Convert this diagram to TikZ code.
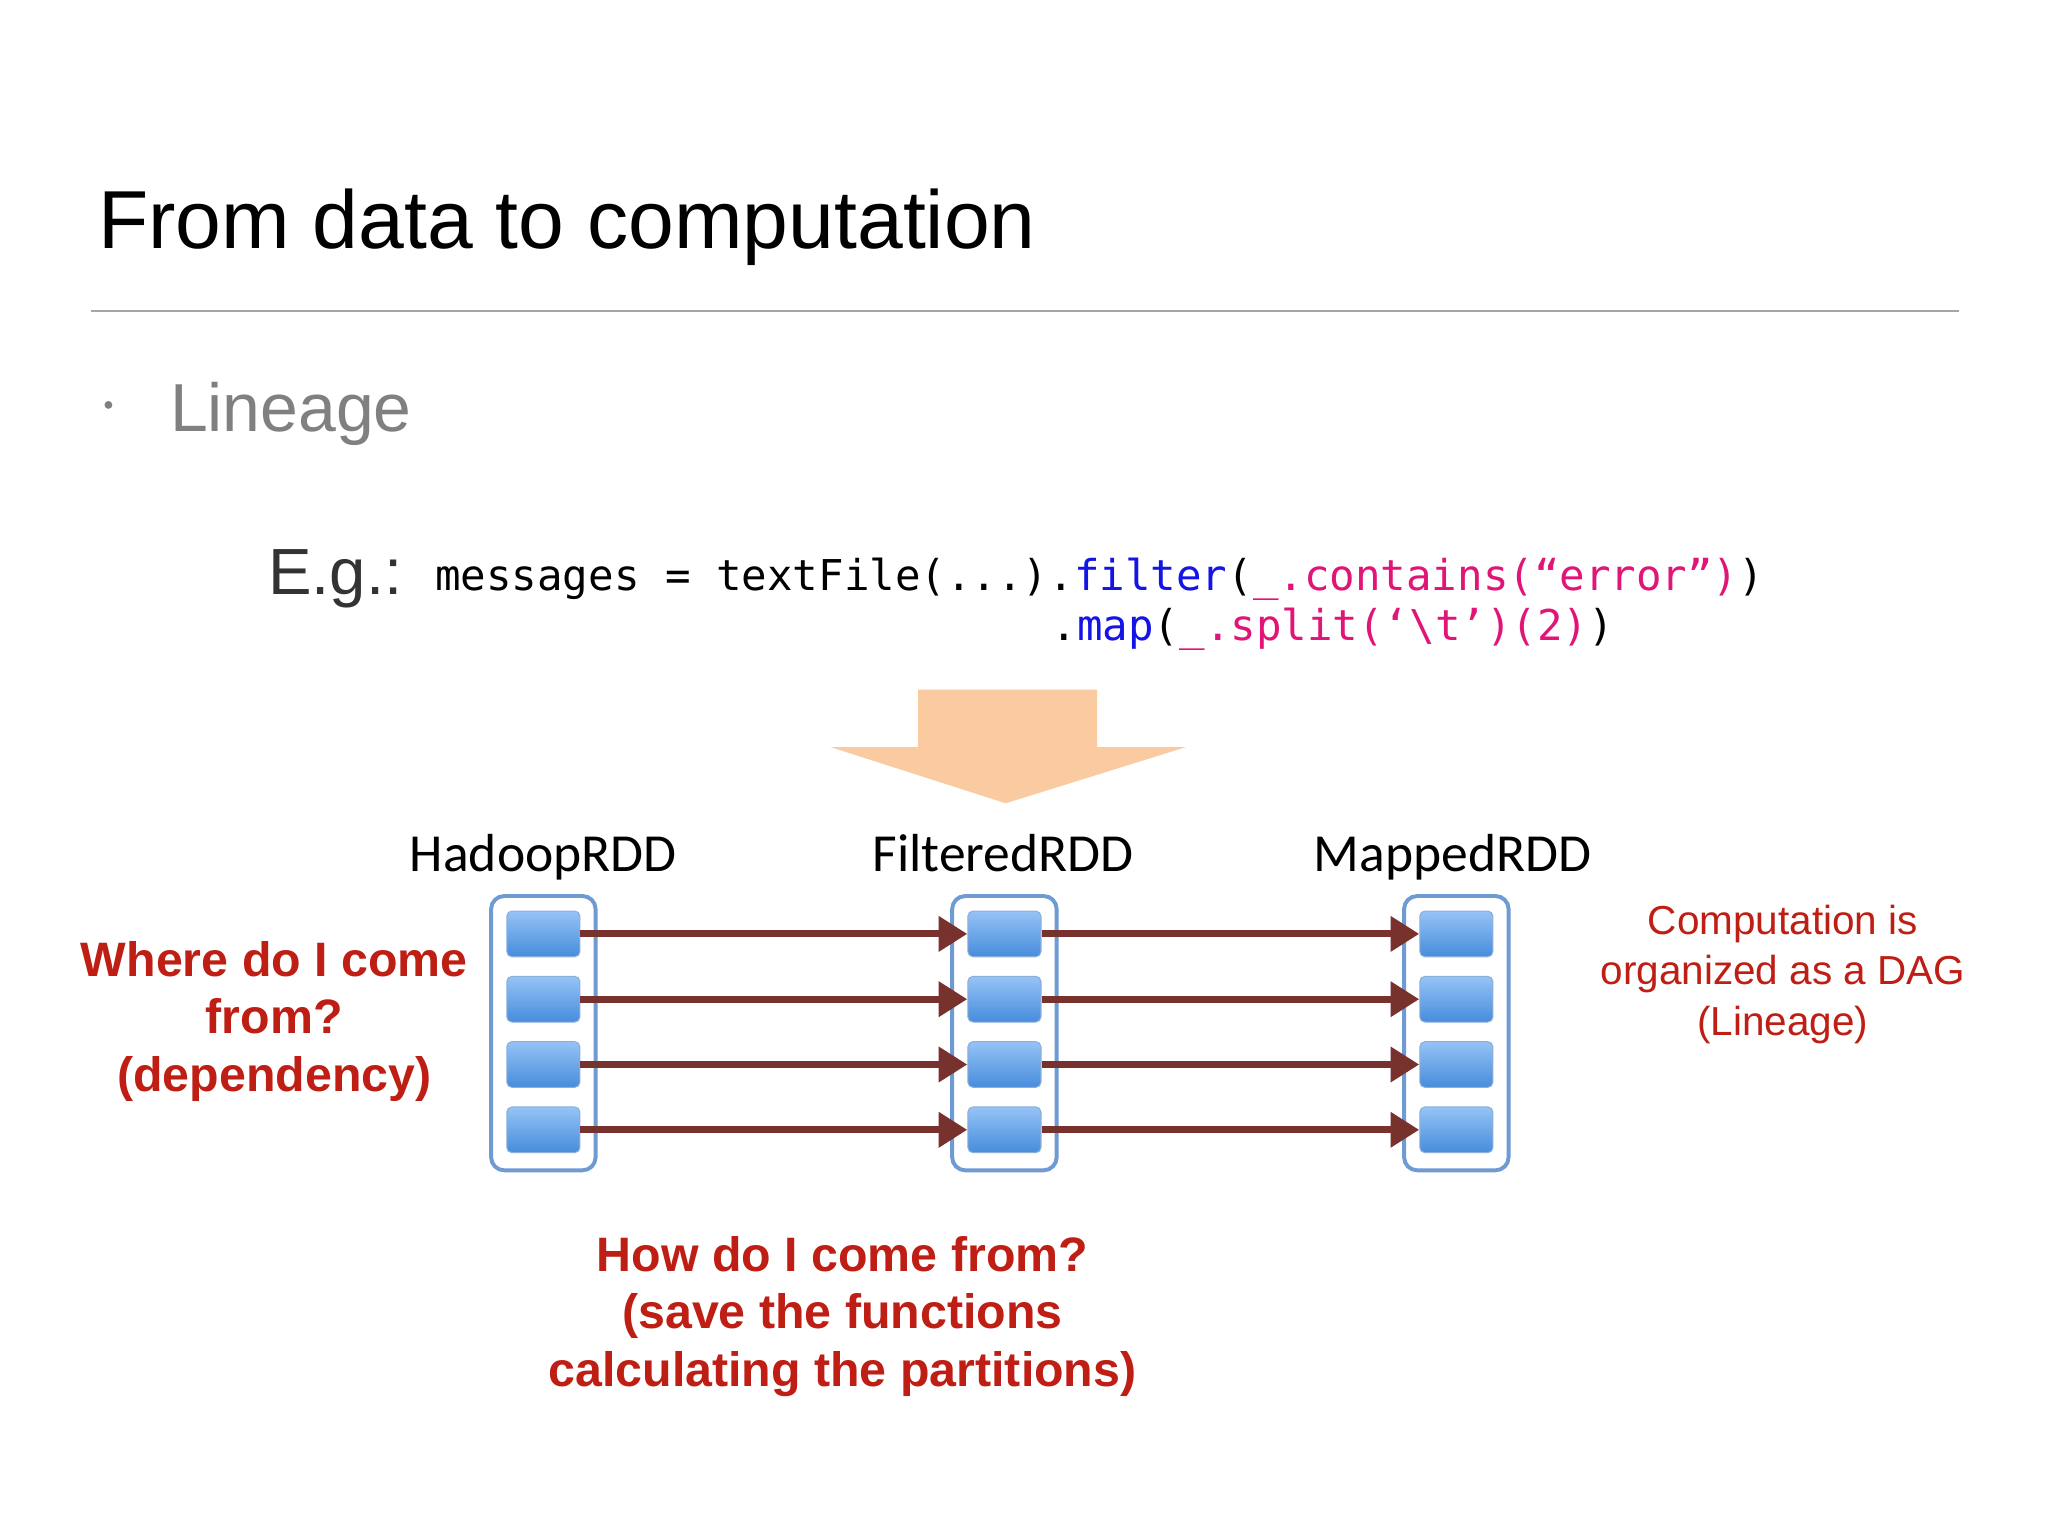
\documentclass[tikz,border=0pt]{standalone}
\usepackage{fontspec}
\setmainfont{Liberation Sans}
\newfontfamily\codefont{DejaVu Sans Mono}
\newfontfamily\calfont{Carlito}
\usetikzlibrary{arrows.meta}
\definecolor{redtxt}{RGB}{190,30,20}
\definecolor{arrowbr}{RGB}{120,50,45}
\definecolor{boxblue}{RGB}{110,155,210}
\definecolor{orng}{RGB}{250,202,160}
\definecolor{codeblue}{RGB}{20,20,230}
\definecolor{codepink}{RGB}{225,20,120}
\tikzset{
 container/.style={draw=boxblue,line width=3pt,rounded corners=10pt,fill=white,minimum width=80pt,minimum height=210pt},
 part/.style={draw=boxblue!80,line width=0.8pt,rounded corners=4pt,top color={rgb,255:red,150;green,195;blue,245},bottom color={rgb,255:red,70;green,140;blue,220},minimum width=56pt,minimum height=35pt},
 flow/.style={draw=arrowbr,line width=5.5pt,-{Triangle[length=22pt,width=26pt]}},
 redq/.style={text=redtxt,font=\fontsize{37}{44}\selectfont\bfseries,align=center},
 rddlabel/.style={font=\calfont\fontsize{41}{44}\selectfont,anchor=base}
}
\begin{document}
\begin{tikzpicture}[x=1pt,y=-1pt]
\useasboundingbox (0,0) rectangle (1568,1176);
\fill[white] (0,0) rectangle (1568,1176);
\node[anchor=base west,inner sep=0,font=\fontsize{63}{70}\selectfont] (title) at (75,190) {From data to computation};
\draw[gray!70,line width=1.2pt] (70,238) -- (1500,238);
\fill[gray] (83,310) circle (3);
\node[anchor=base west,inner sep=0,text=gray,font=\fontsize{52}{60}\selectfont] (lin) at (130,330) {Lineage};
\node[anchor=base west,inner sep=0,font=\fontsize{50}{56}\selectfont,text=black!80] (eg) at (205,455) {E.g.:};
\node[anchor=base west,inner sep=0,font=\codefont\fontsize{32.5}{36}\selectfont] (code1) at (333,452) {messages = textFile(...).\textcolor{codeblue}{filter}(\textcolor{codepink}{\_.contains(“error”)})};
\node[anchor=base west,inner sep=0,font=\codefont\fontsize{32.5}{36}\selectfont] (code2) at (805,490) {.\textcolor{codeblue}{map}(\textcolor{codepink}{\_.split(‘\textbackslash t’)(2)})};
\fill[orng] (703,528) -- (840,528) -- (840,572) -- (908,572) -- (770,615) -- (636,572) -- (703,572) -- cycle;
\node[rddlabel] (lh) at (416,667) {HadoopRDD};
\node[rddlabel] (lf) at (768,667) {FilteredRDD};
\node[rddlabel] (lm) at (1112,667) {MappedRDD};
\node[container] (ch) at (416,791) {};
\node[container] (cf) at (769,791) {};
\node[container] (cm) at (1115,791) {};
\foreach \n/\x in {h/416,f/769,m/1115}{
 \foreach \i/\y in {1/715,2/765,3/815,4/865}{
  \node[part] (p\n\i) at (\x,\y) {};
 }
}
\foreach \i in {1,2,3,4}{
 \draw[flow] (ph\i.east) -- (pf\i.west);
 \draw[flow] (pf\i.east) -- (pm\i.west);
}
\node[redq] (q1) at (210,782) {Where do I come\\from?\\(dependency)};
\node[redq] (q2) at (645,1008) {How do I come from?\\(save the functions\\calculating the partitions)};
\node[text=redtxt,font=\fontsize{31}{38.5}\selectfont,align=center] (dag) at (1365,746) {Computation is\\organized as a DAG\\(Lineage)};
\end{tikzpicture}
\end{document}
